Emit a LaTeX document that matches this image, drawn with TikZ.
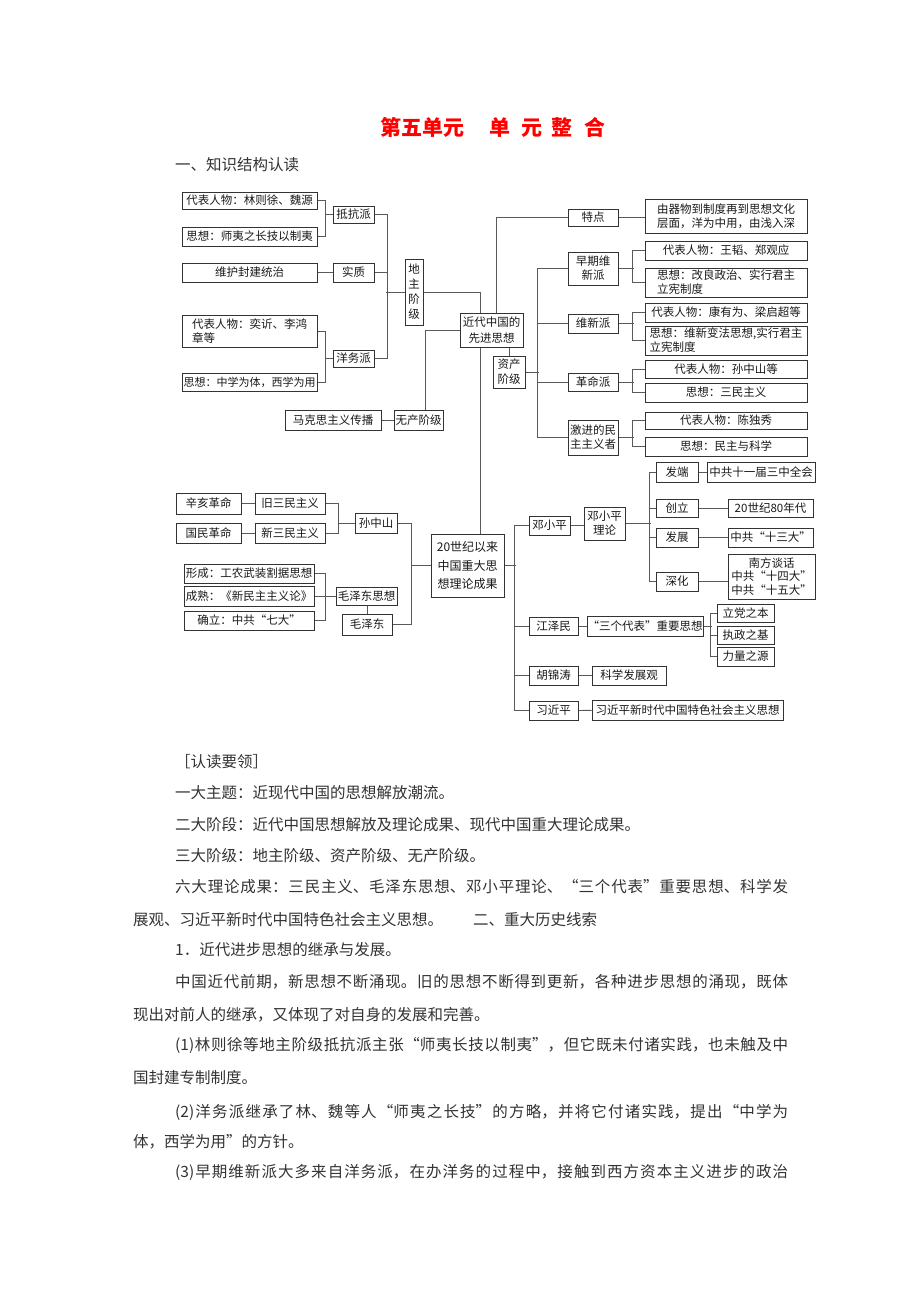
\documentclass[tikz,border=0pt]{standalone}
\usepackage{fontspec}
\setmainfont{Noto Sans CJK SC}
\XeTeXlinebreaklocale "zh"
\XeTeXlinebreakskip=0pt plus 3pt
\newcommand{\jline}[1]{{\parfillskip=0pt\relax #1\par}}
\begin{document}
\begin{tikzpicture}[x=1pt,y=-1pt,
  bx/.style={draw=black!80, line width=1pt, inner sep=0pt, align=center, text=black!90,
    font=\fontsize{11.5}{14}\selectfont},
  lbx/.style={bx, align=left},
  ln/.style={draw=black!65, line width=0.8pt},
  body/.style={anchor=west, inner sep=0pt, text=black!80, font=\fontsize{15.5}{18}\selectfont},
  jbody/.style={body, text width=613pt, align=justify}]
\useasboundingbox[fill=white] (0,0) rectangle (920,1302);

% ---------- title ----------
\node[anchor=west, inner sep=0pt, text=red, font=\fontsize{21}{24}\selectfont\bfseries] (title) at (380,127)
  {第五单元\hspace{25pt}单\hspace{11pt}元\hspace{9pt}整\hspace{12pt}合};
\node[body] (sec1) at (175,165) {一、知识结构认读};

% ---------- left top ----------
\node[bx, minimum width=135, minimum height=17] (rw1) at (249.5,200.5) {代表人物：林则徐、魏源};
\node[bx, minimum width=135, minimum height=19] (sx1) at (249.5,236.5) {思想：师夷之长技以制夷};
\node[bx, minimum width=41, minimum height=17] (dkp) at (353.5,214.5) {抵抗派};
\node[bx, minimum width=135, minimum height=19] (whfj) at (249.5,272.5) {维护封建统治};
\node[bx, minimum width=41, minimum height=19] (sz) at (353.5,272.5) {实质};
\node[bx, minimum width=18, minimum height=66, font=\fontsize{11.5}{15}\selectfont] (dz) at (414,292) {地\\主\\阶\\级};
\node[lbx, minimum width=135, minimum height=32] (rw2) at (249.5,331) {代表人物：奕䜣、李鸿\\章等};
\node[bx, minimum width=135, minimum height=18, font=\fontsize{11}{14}\selectfont] (sx2) at (249.5,382) {思想：中学为体，西学为用};
\node[bx, minimum width=41, minimum height=17] (ywp) at (353.5,358.5) {洋务派};
\node[bx, minimum width=96, minimum height=20] (mks) at (333,420) {马克思主义传播};
\node[bx, minimum width=49, minimum height=20] (wc) at (418.5,420) {无产阶级};
\node[bx, minimum width=63, minimum height=34, font=\fontsize{11.5}{15.5}\selectfont] (jd) at (491.5,330) {近代中国的\\先进思想};
\node[bx, minimum width=32, minimum height=32, font=\fontsize{11.5}{15}\selectfont] (zc) at (509,372) {资产\\阶级};

% ---------- right top ----------
\node[bx, minimum width=50, minimum height=17] (td) at (593,217.5) {特点};
\node[lbx, minimum width=162, minimum height=34] (tdx) at (726,216) {由器物到制度再到思想文化\\层面，洋为中用，由浅入深};
\node[bx, minimum width=50, minimum height=33] (zq) at (593,268.5) {早期维\\新派};
\node[bx, minimum width=162, minimum height=19] (zq1) at (726,250.5) {代表人物：王韬、郑观应};
\node[lbx, minimum width=162, minimum height=29] (zq2) at (726,282.5) {思想：改良政治、实行君主\\立宪制度};
\node[bx, minimum width=50, minimum height=19] (wx) at (593,323.5) {维新派};
\node[bx, minimum width=162, minimum height=19] (wx1) at (726,312.5) {代表人物：康有为、梁启超等};
\node[lbx, minimum width=162, minimum height=29] (wx2) at (726,340.5) {思想：维新变法思想,实行君主\\立宪制度};
\node[bx, minimum width=50, minimum height=18] (gm) at (593,382) {革命派};
\node[bx, minimum width=162, minimum height=18] (gm1) at (726,369) {代表人物：孙中山等};
\node[bx, minimum width=162, minimum height=19] (gm2) at (726,392.5) {思想：三民主义};
\node[bx, minimum width=50, minimum height=35] (jj) at (593,437.5) {激进的民\\主主义者};
\node[bx, minimum width=162, minimum height=17] (jj1) at (726,420.5) {代表人物：陈独秀};
\node[bx, minimum width=162, minimum height=19] (jj2) at (726,446.5) {思想：民主与科学};

% ---------- middle ----------
\node[bx, minimum width=65, minimum height=21] (xh) at (208.5,503.5) {辛亥革命};
\node[bx, minimum width=70, minimum height=21] (js) at (290,503.5) {旧三民主义};
\node[bx, minimum width=65, minimum height=20] (gmg) at (208.5,533) {国民革命};
\node[bx, minimum width=70, minimum height=20] (xs) at (290,533) {新三民主义};
\node[bx, minimum width=42, minimum height=20] (szs) at (376,523) {孙中山};
\node[bx, minimum width=73, minimum height=63, font=\fontsize{12}{18.5}\selectfont] (ess) at (467.5,565.5) {20世纪以来\\中国重大思\\想理论成果};
\node[bx, minimum width=130, minimum height=19] (xc) at (249,573.5) {形成：工农武装割据思想};
\node[bx, minimum width=130, minimum height=20] (cs) at (249,596) {成熟：《新民主主义论》};
\node[bx, minimum width=130, minimum height=19] (ql) at (249,620.5) {确立：中共“七大”};
\node[bx, minimum width=61, minimum height=18] (mzs) at (366.5,596) {毛泽东思想};
\node[bx, minimum width=50, minimum height=21] (mz) at (367,624.5) {毛泽东};

% ---------- lower right ----------
\node[bx, minimum width=41, minimum height=19] (dxp) at (549.5,525.5) {邓小平};
\node[bx, minimum width=41, minimum height=33] (dxpl) at (604.5,523.5) {邓小平\\理论};
\node[bx, minimum width=42, minimum height=20] (fd) at (677,472) {发端};
\node[bx, minimum width=108, minimum height=20] (fd1) at (761,472) {中共十一届三中全会};
\node[bx, minimum width=42, minimum height=18] (cl) at (677,508) {创立};
\node[bx, minimum width=85, minimum height=18] (cl1) at (770.5,508) {20世纪80年代};
\node[bx, minimum width=42, minimum height=19] (fz) at (677,537.5) {发展};
\node[bx, minimum width=85, minimum height=19] (fz1) at (770.5,537.5) {中共“十三大”};
\node[bx, minimum width=42, minimum height=19] (sh) at (677,581.5) {深化};
\node[bx, minimum width=87, minimum height=45, font=\fontsize{11.5}{13.3}\selectfont] (sh1) at (771.5,576.5) {南方谈话\\中共“十四大”\\中共“十五大”};
\node[bx, minimum width=49, minimum height=18] (jzm) at (553.5,626) {江泽民};
\node[bx, minimum width=116, minimum height=20] (sgdb) at (645,626) {“三个代表”重要思想};
\node[bx, minimum width=57, minimum height=18] (ldz) at (745.5,613) {立党之本};
\node[bx, minimum width=57, minimum height=18] (zzz) at (745.5,635) {执政之基};
\node[bx, minimum width=57, minimum height=19] (llz) at (745.5,656.5) {力量之源};
\node[bx, minimum width=49, minimum height=19] (hjt) at (553.5,675.5) {胡锦涛};
\node[bx, minimum width=74, minimum height=19] (kxf) at (629,675.5) {科学发展观};
\node[bx, minimum width=49, minimum height=19] (xjp) at (553.5,710.5) {习近平};
\node[bx, minimum width=191, minimum height=20] (xjps) at (687.5,710) {习近平新时代中国特色社会主义思想};

% ---------- connectors ----------
\draw[ln] (rw1.east) -- ++(8,0) |- (sx1.east);
\draw[ln] (dkp.west) -- ++(-8,0);
\draw[ln] (whfj) -- (sz);
\draw[ln] (rw2.east) -- ++(8,0) |- (sx2.east);
\draw[ln] (ywp.west) -- ++(-8,0);
\draw[ln] (dkp.east) -- ++(12.7,0) |- (ywp.east);
\draw[ln] (sz.east) -- ++(12.7,0);
\draw[ln] (dz.west) -- ++(-18.3,0);
\draw[ln] (dz.east) -| ([xshift=-11.5pt]jd.north);
\draw[ln] ([xshift=4.5pt]jd.north) |- (td.west);
\draw[ln] (td.east) -- (td.east -| tdx.west);
\draw[ln] ([xshift=6.5pt]wc.north) |- (jd.west);
\draw[ln] (mks) -- (wc);
\draw[ln] (zc.north) -- (zc.north |- jd.south);
\draw[ln] (zc.east) -- ++(13,0);
\draw[ln] (zq.west) -- ++(-30,0) |- (jj.west);
\draw[ln] (wx.west) -- ++(-30,0);
\draw[ln] (gm.west) -- ++(-30,0);
\draw[ln] (zq.east) -- ++(15,0);
\draw[ln] (zq1.west) -- ++(-12,0) |- (zq2.west);
\draw[ln] (wx.east) -- ++(15,0);
\draw[ln] (wx1.west) -- ++(-12,0) |- (wx2.west);
\draw[ln] (gm.east) -- ++(15,0);
\draw[ln] (gm1.west) -- ++(-12,0) |- (gm2.west);
\draw[ln] (jj.east) -- ++(15,0);
\draw[ln] (jj1.west) -- ++(-12,0) |- (jj2.west);
\draw[ln] ([xshift=-11.5pt]jd.south) -- ([xshift=-11.5pt]jd.south |- ess.north);

\draw[ln] (xh) -- (js);
\draw[ln] (gmg) -- (xs);
\draw[ln] (js.east) -- ++(13,0) |- (xs.east);
\draw[ln] (szs.west) -- ++(-17,0);
\draw[ln] (szs.east) -- ++(14,0) |- (mz.east);
\draw[ln] (ess.west) -- ++(-20,0);
\draw[ln] (xc.east) -- ++(11,0) |- (ql.east);
\draw[ln] (cs.east) -- (mzs.west);
\draw[ln] (mz.north) -- (mz.north |- mzs.south);

\draw[ln] (ess.east) -- ++(11,0);
\draw[ln] (dxp.west) -- ++(-14,0) |- (xjp.west);
\draw[ln] (jzm.west) -- ++(-14,0);
\draw[ln] (hjt.west) -- ++(-14,0);
\draw[ln] (dxp.east) -- (dxp.east -| dxpl.west);
\draw[ln] (dxpl.east) -- ++(25,0);
\draw[ln] (fd.west) -- ++(-6,0) |- (sh.west);
\draw[ln] (cl.west) -- ++(-6,0);
\draw[ln] (fz.west) -- ++(-6,0);
\draw[ln] (fd) -- (fd1);
\draw[ln] (cl) -- (cl1);
\draw[ln] (fz) -- (fz1);
\draw[ln] (sh.east) -- (sh.east -| sh1.west);
\draw[ln] (jzm) -- (sgdb);
\draw[ln] (sgdb.east) -- ++(8,0);
\draw[ln] (ldz.west) -- ++(-6,0) |- (llz.west);
\draw[ln] (zzz.west) -- ++(-6,0);
\draw[ln] (hjt) -- (kxf);
\draw[ln] (xjp) -- (xjps);

% ---------- text ----------
\node[body] (t0) at (175,762) {［认读要领］};
\node[body] (t1) at (175,793) {一大主题：近现代中国的思想解放潮流。};
\node[body] (t2) at (175,825) {二大阶段：近代中国思想解放及理论成果、现代中国重大理论成果。};
\node[body] (t3) at (175,856) {三大阶级：地主阶级、资产阶级、无产阶级。};
\node[jbody] (t4) at (175,887) {\jline{六大理论成果：三民主义、毛泽东思想、邓小平理论、“三个代表”重要思想、科学发}};
\node[body] (t5) at (133,920) {展观、习近平新时代中国特色社会主义思想。\hspace{30pt}二、重大历史线索};
\node[body] (t6) at (175,950) {1．近代进步思想的继承与发展。};
\node[jbody] (t7) at (175,982) {\jline{中国近代前期，新思想不断涌现。旧的思想不断得到更新，各种进步思想的涌现，既体}};
\node[body] (t8) at (133,1015) {现出对前人的继承，又体现了对自身的发展和完善。};
\node[jbody] (t9) at (175,1045) {\jline{(1)林则徐等地主阶级抵抗派主张“师夷长技以制夷”，但它既未付诸实践，也未触及中}};
\node[body] (t10) at (133,1078) {国封建专制制度。};
\node[jbody] (t11) at (175,1112) {\jline{(2)洋务派继承了林、魏等人“师夷之长技”的方略，并将它付诸实践，提出“中学为}};
\node[body] (t12) at (133,1142) {体，西学为用”的方针。};
\node[jbody] (t13) at (175,1172) {\jline{(3)早期维新派大多来自洋务派，在办洋务的过程中，接触到西方资本主义进步的政治}};
\end{tikzpicture}
\end{document}
